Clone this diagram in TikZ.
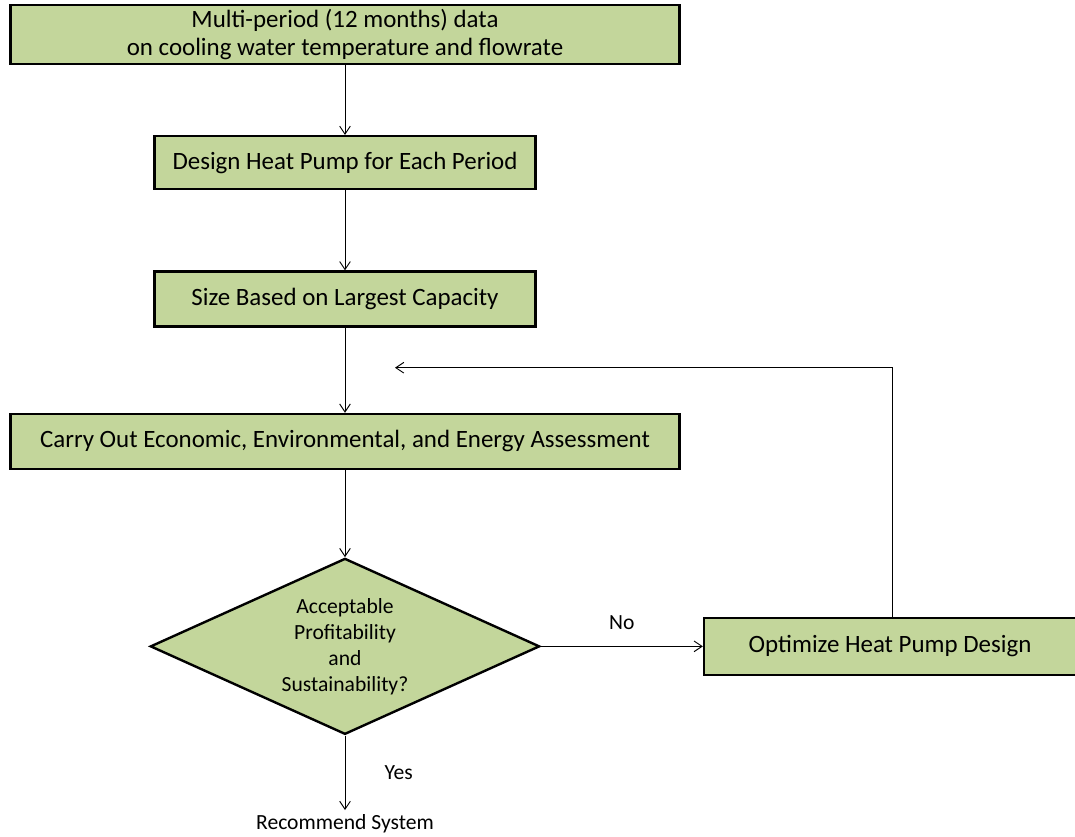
\documentclass[tikz,border=0pt]{standalone}
\usepackage{fontspec}
\setmainfont{Carlito}
\usepackage{xcolor}
\usetikzlibrary{arrows.meta,positioning,shapes.geometric,calc}
\definecolor{boxgreen}{RGB}{195,214,155}

\begin{document}
\begin{tikzpicture}[x=0.75pt, y=-0.75pt, font=\fontsize{18.7}{21}\selectfont,
  box/.style={draw, line width=1.8pt, fill=boxgreen, align=center, inner sep=3pt},
  decision/.style={diamond, draw, line width=1.8pt, fill=boxgreen, align=center, aspect=2.216,
    inner sep=0pt, minimum width=292pt, minimum height=132pt, font=\fontsize{16.2}{19.5}\selectfont},
  lbl/.style={font=\fontsize{16.2}{19}\selectfont},
  arr/.style={-{Straight Barb[length=6pt,width=8pt]}, line width=0.7pt}]
  \useasboundingbox (0,0) rectangle (1075,836);
  \node[box, minimum width=502pt, minimum height=42.75pt] (data) at (345,34.5) {Multi-period (12 months) data\\on cooling water temperature and flowrate};
  \node[box, minimum width=285.75pt, minimum height=39.75pt, below=52.5pt of data] (design) {Design Heat Pump for Each Period};
  \node[box, minimum width=285.75pt, minimum height=41.25pt, below=60pt of design] (size) {Size Based on Largest Capacity};
  \node[box, minimum width=502pt, minimum height=41.25pt, below=63.75pt of size] (assess) {Carry Out Economic, Environmental, and Energy Assessment};
  \node[decision, below=65.25pt of assess] (decide) {Acceptable\\Profitability\\and\\Sustainability?};
  \node[box, minimum width=279pt, minimum height=42.75pt, right=121.5pt of decide] (optimize) {Optimize Heat Pump Design};
  \node[lbl] (recommend) at (345,824) {Recommend System};
  \coordinate (back) at ($(size.south)!0.47!(assess.north) + (50,0)$);
  \draw[arr] (data) -- (design);
  \draw[arr] (design) -- (size);
  \draw[arr] (size) -- (assess);
  \draw[arr] (assess) -- (decide);
  \draw[arr] (decide) -- node[lbl, midway, above=9pt] {No} (optimize);
  \draw[arr] (decide) -- node[lbl, midway, right=26pt] {Yes} (recommend);
  \draw[arr] ([xshift=2pt]optimize.north) |- (back);
\end{tikzpicture}
\end{document}
